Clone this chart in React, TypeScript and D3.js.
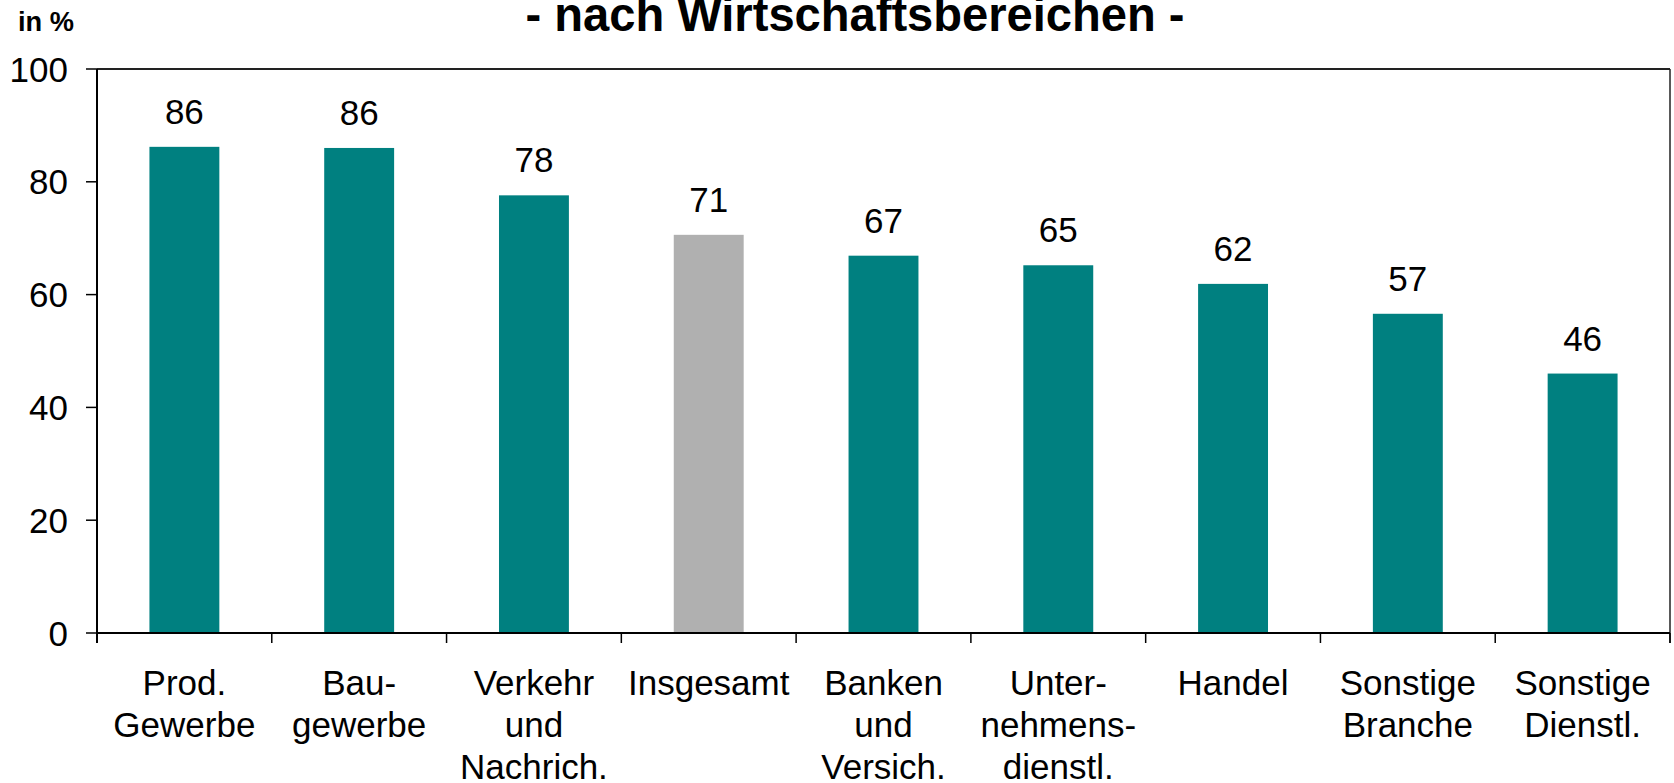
import React from 'react';
import * as d3 from 'd3';

const categories = [
  'Prod.\nGewerbe',
  'Bau-\ngewerbe',
  'Verkehr\nund\nNachrich.',
  'Insgesamt',
  'Banken\nund\nVersich.',
  'Unter-\nnehmens-\ndienstl.',
  'Handel',
  'Sonstige\nBranche',
  'Sonstige\nDienstl.'
];
const values = [86.2, 86.0, 77.6, 70.6, 66.9, 65.2, 61.9, 56.6, 46.0];
const valueLabels = ['86', '86', '78', '71', '67', '65', '62', '57', '46'];
const highlight = 'Insgesamt';
const yTicks = [0, 20, 40, 60, 80, 100];

const W = 1674;
const H = 783;
const left = 97;
const right = 1670;
const top = 69;
const bottom = 633;
const font = '"Liberation Sans", Arial, sans-serif';
const teal = '#008080';
const grey = '#b0b0b0';
const labelSize = 35;

export default function App() {
  const x = d3
    .scaleBand<string>()
    .domain(categories)
    .range([left, right])
    .paddingInner(0.6)
    .paddingOuter(0.3);
  const y = d3.scaleLinear().domain([0, 100]).range([bottom, top]);
  const step = x.step();

  // tick positions between the categories
  const boundaries = categories.map(c => (x(c) as number) - step * 0.3);
  boundaries.push(right);

  return (
    <svg
      width={W}
      height={H}
      style={{ position: 'absolute', left: 0, top: 0, background: '#fff' }}
      fontFamily={font}
    >
      {/* title, cut off at the top like the original */}
      <text
        x={855}
        y={31}
        textAnchor="middle"
        fontSize={48}
        fontWeight="bold"
        textLength={659}
        lengthAdjust="spacingAndGlyphs"
      >
        - nach Wirtschaftsbereichen -
      </text>
      <text x={18} y={31} fontSize={27} fontWeight="bold" textLength={56} lengthAdjust="spacingAndGlyphs">
        in %
      </text>

      {/* bars */}
      {categories.map((c, i) => (
        <rect
          key={c}
          x={x(c)}
          y={y(values[i])}
          width={x.bandwidth()}
          height={bottom - y(values[i])}
          fill={c === highlight ? grey : teal}
        />
      ))}

      {/* value labels */}
      {categories.map((c, i) => (
        <text
          key={c}
          x={(x(c) as number) + x.bandwidth() / 2}
          y={y(values[i]) - 23}
          textAnchor="middle"
          fontSize={labelSize}
        >
          {valueLabels[i]}
        </text>
      ))}

      {/* frame */}
      <line x1={left} x2={right} y1={top} y2={top} stroke="#222" strokeWidth={2} />
      <line x1={right} x2={right} y1={top} y2={bottom + 10} stroke="#222" strokeWidth={1.5} />
      <line x1={left} x2={left} y1={top} y2={bottom + 10} stroke="#000" strokeWidth={2} />
      <line x1={left} x2={right} y1={bottom} y2={bottom} stroke="#000" strokeWidth={2} />

      {/* y axis */}
      {yTicks.map(t => (
        <g key={t}>
          <line x1={left - 11} x2={left} y1={y(t)} y2={y(t)} stroke="#000" strokeWidth={1.5} />
          <text x={68} y={y(t) + 12.5} textAnchor="end" fontSize={labelSize}>
            {t}
          </text>
        </g>
      ))}

      {/* x axis ticks */}
      {boundaries.map((b, i) => (
        <line key={i} x1={b} x2={b} y1={bottom} y2={bottom + 10} stroke="#000" strokeWidth={1.5} />
      ))}

      {/* category labels */}
      {categories.map(c => (
        <text
          key={c}
          x={(x(c) as number) + x.bandwidth() / 2}
          y={695}
          textAnchor="middle"
          fontSize={labelSize}
        >
          {c.split('\n').map((line, j) => (
            <tspan key={j} x={(x(c) as number) + x.bandwidth() / 2} dy={j === 0 ? 0 : 42}>
              {line}
            </tspan>
          ))}
        </text>
      ))}
    </svg>
  );
}
